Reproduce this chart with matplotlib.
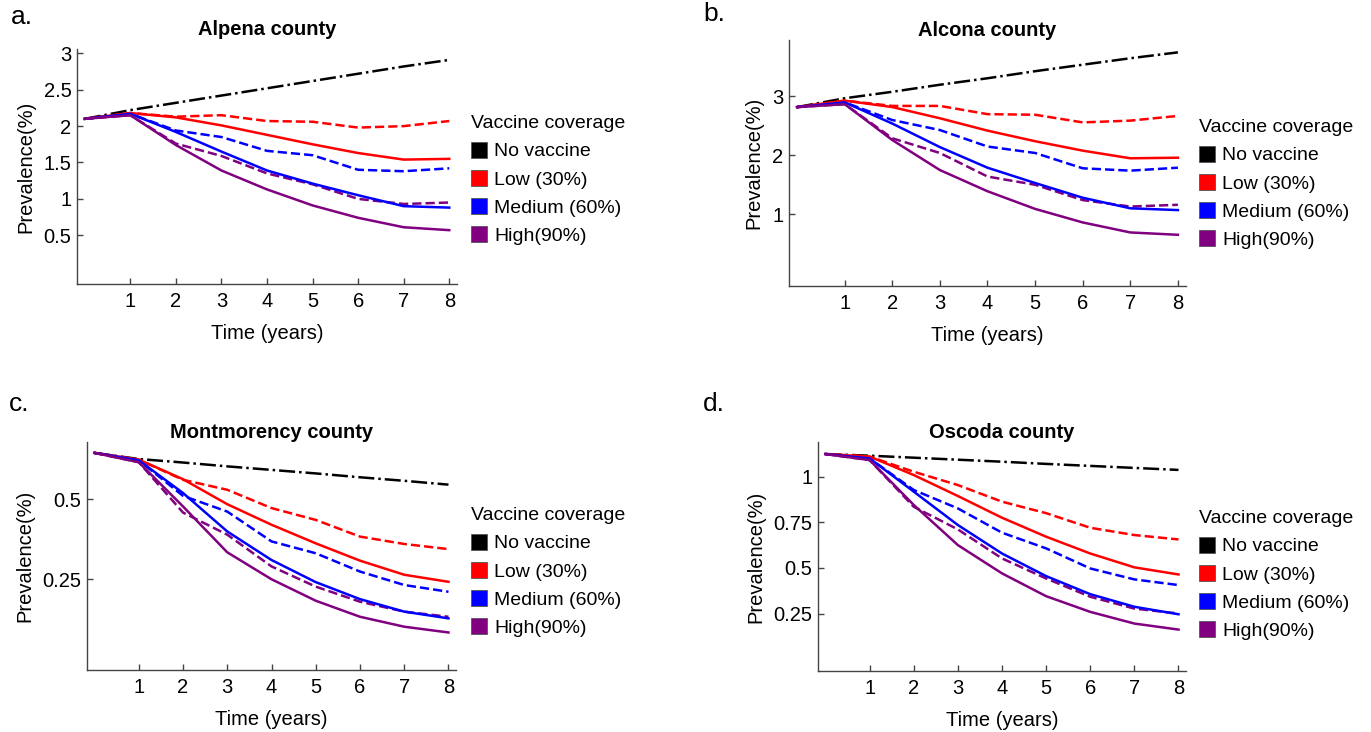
import numpy as np
import matplotlib
matplotlib.use('Agg')
import matplotlib.pyplot as plt
from matplotlib.lines import Line2D

plt.rcParams['font.family'] = ['Liberation Sans', 'DejaVu Sans']

years = [0, 1, 2, 3, 4, 5, 6, 7, 8]

# Alpena county
alpena_none = [2.10, 2.22, 2.32, 2.42, 2.52, 2.62, 2.72, 2.82, 2.91]
alpena_low = [2.10, 2.18, 2.12, 2.01, 1.88, 1.75, 1.63, 1.54, 1.55]
alpena_low_d = [2.10, 2.18, 2.13, 2.15, 2.07, 2.06, 1.98, 2.00, 2.07]
alpena_med = [2.10, 2.17, 1.92, 1.65, 1.39, 1.21, 1.05, 0.90, 0.88]
alpena_med_d = [2.10, 2.17, 1.94, 1.85, 1.66, 1.60, 1.40, 1.38, 1.42]
alpena_high = [2.10, 2.15, 1.74, 1.39, 1.13, 0.91, 0.74, 0.61, 0.57]
alpena_high_d = [2.10, 2.15, 1.76, 1.59, 1.35, 1.20, 1.00, 0.93, 0.95]

# Alcona county
alcona_none = [2.82, 2.97, 3.08, 3.20, 3.31, 3.43, 3.54, 3.65, 3.75]
alcona_low = [2.82, 2.93, 2.82, 2.63, 2.42, 2.24, 2.08, 1.95, 1.96]
alcona_low_d = [2.82, 2.93, 2.84, 2.84, 2.70, 2.69, 2.56, 2.59, 2.67]
alcona_med = [2.82, 2.90, 2.54, 2.14, 1.79, 1.53, 1.28, 1.10, 1.07]
alcona_med_d = [2.82, 2.90, 2.60, 2.43, 2.15, 2.04, 1.78, 1.74, 1.79]
alcona_high = [2.82, 2.87, 2.26, 1.75, 1.39, 1.09, 0.86, 0.69, 0.65]
alcona_high_d = [2.82, 2.87, 2.29, 2.04, 1.64, 1.50, 1.24, 1.13, 1.16]

# Montmorency county
montm_none = [0.644, 0.625, 0.614, 0.602, 0.591, 0.580, 0.568, 0.557, 0.545]
montm_low = [0.644, 0.623, 0.562, 0.484, 0.420, 0.362, 0.308, 0.264, 0.242]
montm_low_d = [0.644, 0.623, 0.560, 0.529, 0.472, 0.435, 0.383, 0.360, 0.344]
montm_med = [0.644, 0.621, 0.519, 0.399, 0.310, 0.241, 0.188, 0.149, 0.128]
montm_med_d = [0.644, 0.621, 0.510, 0.461, 0.368, 0.331, 0.274, 0.232, 0.211]
montm_high = [0.644, 0.615, 0.477, 0.334, 0.250, 0.183, 0.133, 0.102, 0.084]
montm_high_d = [0.644, 0.615, 0.458, 0.389, 0.290, 0.227, 0.180, 0.149, 0.133]

# Oscoda county
oscoda_none = [1.124, 1.115, 1.104, 1.093, 1.082, 1.070, 1.059, 1.048, 1.037]
oscoda_low = [1.124, 1.110, 1.009, 0.894, 0.775, 0.671, 0.579, 0.503, 0.464]
oscoda_low_d = [1.124, 1.110, 1.027, 0.954, 0.863, 0.800, 0.720, 0.680, 0.656]
oscoda_med = [1.124, 1.100, 0.918, 0.735, 0.579, 0.455, 0.356, 0.287, 0.246]
oscoda_med_d = [1.124, 1.100, 0.927, 0.826, 0.693, 0.607, 0.497, 0.437, 0.406]
oscoda_high = [1.124, 1.091, 0.845, 0.625, 0.470, 0.345, 0.259, 0.195, 0.162]
oscoda_high_d = [1.124, 1.091, 0.835, 0.711, 0.552, 0.442, 0.342, 0.277, 0.250]

titles = ['Alpena county', 'Alcona county', 'Montmorency county', 'Oscoda county']
panel_letters = ['a.', 'b.', 'c.', 'd.']
yticks_list = [[0.5, 1, 1.5, 2, 2.5, 3], [1, 2, 3], [0.25, 0.5], [0.25, 0.5, 0.75, 1]]
ytick_labels = [['0.5', '1', '1.5', '2', '2.5', '3'], ['1', '2', '3'],
                ['0.25', '0.5'], ['0.25', '0.5', '0.75', '1']]
ylims = [(-0.17, 3.06), (-0.22, 3.96), (-0.033, 0.678), (-0.065, 1.19)]
legend_labels = ['No vaccine', 'Low (30%)', 'Medium (60%)', 'High(90%)']
colors = ['black', '#ff0000', '#0000ff', '#800080']

series = [
    [alpena_none, alpena_low, alpena_low_d, alpena_med, alpena_med_d, alpena_high, alpena_high_d],
    [alcona_none, alcona_low, alcona_low_d, alcona_med, alcona_med_d, alcona_high, alcona_high_d],
    [montm_none, montm_low, montm_low_d, montm_med, montm_med_d, montm_high, montm_high_d],
    [oscoda_none, oscoda_low, oscoda_low_d, oscoda_med, oscoda_med_d, oscoda_high, oscoda_high_d],
]

W, H = 1371, 732
# axes boxes in pixels: left, right, bottom, top
boxes = [(77, 457, 284, 49), (789, 1186, 286, 40), (87, 456, 670, 442), (818, 1186, 671, 442)]
letter_pos = [(11, 5), (703, 2), (9, 392), (703, 392)]
legend_pos = [(471, 115), (1199, 119), (471, 507), (1199, 510)]
title_pads = [10, 2, 2, 2]

fig = plt.figure(figsize=(W / 100, H / 100), dpi=100)
lw = 1.8
axis_col = '#444444'
fs = 14.5

for i in range(4):
    l, r, b, t = boxes[i]
    ax = fig.add_axes([l / W, 1 - b / H, (r - l) / W, (b - t) / H])
    none, low, low_d, med, med_d, high, high_d = series[i]
    ax.plot(years, none, '-.', color=colors[0], lw=lw)
    ax.plot(years, low_d, '--', color=colors[1], lw=lw)
    ax.plot(years, med_d, '--', color=colors[2], lw=lw)
    ax.plot(years, high_d, '--', color=colors[3], lw=lw)
    ax.plot(years, low, '-', color=colors[1], lw=lw)
    ax.plot(years, med, '-', color=colors[2], lw=lw)
    ax.plot(years, high, '-', color=colors[3], lw=lw)

    ax.set_xlim(-0.17, 8.17)
    ax.set_ylim(*ylims[i])
    ax.set_xticks(years[1:])
    ax.set_yticks(yticks_list[i])
    ax.set_yticklabels(ytick_labels[i])
    ax.tick_params(direction='in', length=4, width=1, color=axis_col,
                   labelsize=fs, pad=4)
    ax.tick_params(axis='x', pad=6)
    for s in ['top', 'right']:
        ax.spines[s].set_visible(False)
    for s in ['left', 'bottom']:
        ax.spines[s].set_color(axis_col)
        ax.spines[s].set_linewidth(1.0)
    ax.set_xlabel('Time (years)', fontsize=fs, labelpad=9)
    ax.set_ylabel('Prevalence(%)', fontsize=fs, labelpad=6)
    ax.set_title(titles[i], fontsize=14.5, fontweight='bold', pad=title_pads[i])

    lx, ly = letter_pos[i]
    fig.text(lx / W, 1 - ly / H, panel_letters[i], fontsize=19, va='top', ha='left')

    handles = [Line2D([], [], marker='s', linestyle='none', markersize=12,
                      markerfacecolor=c, markeredgecolor='#555555', markeredgewidth=0.6)
               for c in colors]
    gx, gy = legend_pos[i]
    leg = fig.legend(handles, legend_labels, title='Vaccine coverage',
                     loc='upper left', bbox_to_anchor=(gx / W, 1 - gy / H),
                     frameon=False, fontsize=14, title_fontsize=14,
                     handlelength=0.8, handletextpad=0.4, labelspacing=0.55,
                     borderpad=0, borderaxespad=0, alignment='left')

fig.savefig('out.png', dpi=100)
